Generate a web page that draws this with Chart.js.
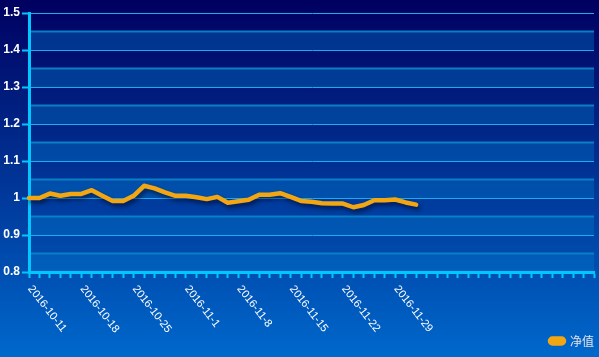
<!DOCTYPE html>
<html><head><meta charset="utf-8">
<script src="https://cdn.jsdelivr.net/npm/chart.js@4"></script>
<style>html,body{margin:0;padding:0;background:#0066cc;}#w{width:599px;height:357px;}</style>
</head><body><div id="w"><canvas id="c"></canvas></div>
<script>
const xLabels = [
  '2016-10-11','2016-10-12','2016-10-13','2016-10-14','2016-10-17',
  '2016-10-18','2016-10-19','2016-10-20','2016-10-21','2016-10-24',
  '2016-10-25','2016-10-26','2016-10-27','2016-10-28','2016-10-31',
  '2016-11-1','2016-11-2','2016-11-3','2016-11-4','2016-11-7',
  '2016-11-8','2016-11-9','2016-11-10','2016-11-11','2016-11-14',
  '2016-11-15','2016-11-16','2016-11-17','2016-11-18','2016-11-21',
  '2016-11-22','2016-11-23','2016-11-24','2016-11-25','2016-11-28',
  '2016-11-29','2016-11-30','2016-12-1',
  '','','','','','','','','','','','','','','','',''
];
const navValues = [
  1.000, 1.000, 1.012, 1.006, 1.011, 1.011, 1.021, 1.006, 0.992, 0.992,
  1.006, 1.033, 1.026, 1.015, 1.006, 1.006, 1.002, 0.997, 1.003, 0.987,
  0.991, 0.995, 1.009, 1.009, 1.013, 1.003, 0.992, 0.990, 0.986, 0.985,
  0.985, 0.975, 0.981, 0.994, 0.994, 0.996, 0.988, 0.982
];
const yTicks = [0.8, 0.9, 1, 1.1, 1.2, 1.3, 1.4, 1.5];
const yTickLabels = ['0.8', '0.9', '1', '1.1', '1.2', '1.3', '1.4', '1.5'];
const seriesName = '净值';

const bgPlugin = {
  id: 'bg',
  afterLayout(chart) {
    const lg = chart.legend;
    if (lg) { lg.left += 8; lg.right += 8; }
  },
  beforeDraw(chart) {
    const ctx = chart.ctx, ca = chart.chartArea, y = chart.scales.y;
    ctx.save();
    const g = ctx.createLinearGradient(0, 0, 0, chart.height);
    g.addColorStop(0, '#000060');
    g.addColorStop(1, '#0068cc');
    ctx.fillStyle = g;
    ctx.fillRect(0, 0, chart.width, chart.height);
    for (let i = 0; i < yTicks.length - 1; i++) {
      const lo = yTicks[i], mid = (yTicks[i] + yTicks[i + 1]) / 2;
      const p1 = y.getPixelForValue(mid), p0 = y.getPixelForValue(lo);
      ctx.fillStyle = 'rgba(0,120,200,0.38)';
      ctx.fillRect(ca.left, p1, ca.right - ca.left, p0 - p1);
      ctx.strokeStyle = '#0a7ec6';
      ctx.lineWidth = 2;
      ctx.beginPath();
      ctx.moveTo(ca.left, p1);
      ctx.lineTo(ca.right, p1);
      ctx.stroke();
    }
    ctx.restore();
  }
};
const shadowPlugin = {
  id: 'shadow',
  beforeDatasetDraw(chart) {
    const ctx = chart.ctx;
    ctx.save();
    ctx.shadowColor = 'rgba(0,0,30,0.6)';
    ctx.shadowBlur = 4;
    ctx.shadowOffsetX = 2;
    ctx.shadowOffsetY = 3;
  },
  afterDatasetDraw(chart) { chart.ctx.restore(); }
};
const xLabelPlugin = {
  id: 'xlabels',
  afterDraw(chart) {
    const ctx = chart.ctx, x = chart.scales.x;
    ctx.save();
    ctx.fillStyle = '#ffffff';
    ctx.font = '11px "Liberation Sans", Arial, sans-serif';
    ctx.textAlign = 'left';
    ctx.textBaseline = 'middle';
    for (let i = 0; i < xLabels.length; i += 5) {
      if (!xLabels[i]) continue;
      const px = x.getPixelForValue(i);
      ctx.save();
      ctx.translate(px + 1, 287);
      ctx.rotate(52 * Math.PI / 180);
      ctx.fillText(xLabels[i], 0, 0);
      ctx.restore();
    }
    ctx.restore();
  }
};

new Chart(document.getElementById('c'), {
  type: 'line',
  data: {
    labels: xLabels,
    datasets: [{
      label: seriesName,
      data: navValues,
      borderColor: '#f2a712',
      backgroundColor: '#f2a712',
      borderWidth: 4.5,
      borderCapStyle: 'round',
      borderJoinStyle: 'round',
      pointRadius: 0,
      tension: 0,
      fill: false
    }]
  },
  options: {
    responsive: true,
    maintainAspectRatio: false,
    animation: false,
    devicePixelRatio: 1,
    layout: { padding: { top: 13, right: 5, left: 0, bottom: 0 } },
    plugins: {
      legend: {
        position: 'bottom',
        align: 'end',
        labels: {
          color: '#e4e4e4',
          font: { size: 12, family: '"Noto Sans CJK SC", sans-serif' },
          boxWidth: 14,
          boxHeight: 5,
          useBorderRadius: true,
          borderRadius: 2.5,
          padding: 8
        }
      },
      tooltip: { enabled: false }
    },
    scales: {
      x: {
        type: 'category',
        offset: false,
        afterFit(s) {
          const lh = s.chart.legend ? s.chart.legend.height : 0;
          s.height = s.chart.height - 272 - lh;
        },
        grid: {
          display: true,
          drawOnChartArea: false,
          drawTicks: true,
          tickLength: 6,
          tickColor: '#00c8ff',
          tickWidth: 2
        },
        border: { display: true, color: '#00c8ff', width: 3 },
        ticks: { display: false, autoSkip: false }
      },
      y: {
        min: 0.8,
        max: 1.5,
        afterFit(s) { s.width = 29; },
        afterBuildTicks(s) { s.ticks = yTicks.map(v => ({ value: v })); },
        grid: {
          color: '#1eaaee',
          lineWidth: 1,
          drawTicks: true,
          tickLength: 7,
          tickColor: '#00c8ff',
          tickWidth: 2
        },
        border: { display: true, color: '#00c8ff', width: 3 },
        ticks: {
          color: '#ffffff',
          font: { size: 12, weight: 'bold', family: '"Liberation Sans", Arial, sans-serif' },
          padding: 2,
          callback(v) {
            const i = yTicks.findIndex(t => Math.abs(t - v) < 1e-6);
            return i >= 0 ? yTickLabels[i] : '';
          }
        }
      }
    }
  },
  plugins: [bgPlugin, shadowPlugin, xLabelPlugin]
});
</script>
</body></html>
